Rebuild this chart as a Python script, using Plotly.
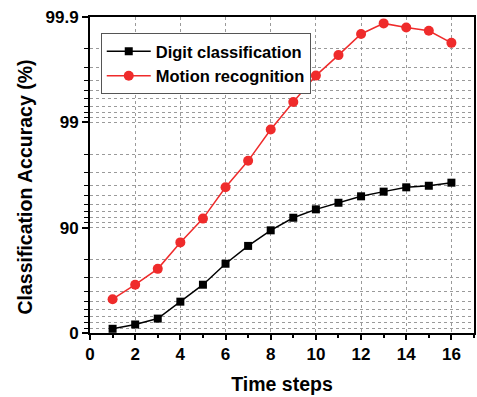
import numpy as np
import plotly.graph_objects as go

time_steps = list(range(1, 17))
digit_acc = [8.8, 17.0, 27.0, 49.6, 65.2, 78.0, 85.1, 89.4, 91.95, 93.3, 94.2, 94.96, 95.45, 95.86, 96.0, 96.26]
motion_acc = [52.2, 65.2, 75.4, 86.2, 91.8, 95.86, 97.68, 98.83, 99.36, 99.64, 99.77, 99.855, 99.885, 99.874, 99.865, 99.824]

y_tick_labels = ["0", "90", "99", "99.9"]
y_tick_acc = [0, 90, 99, 99.9]
y_minor_acc = [10, 20, 30, 40, 50, 60, 70, 80,
               91, 92, 93, 94, 95, 96, 97, 98,
               99.1, 99.2, 99.3, 99.4, 99.5, 99.6, 99.7, 99.8]
x_ticks = [0, 2, 4, 6, 8, 10, 12, 14, 16]

# Error rate on a reversed log axis == accuracy on a "nines" scale
def err(a):
    return [round(100 - v, 6) for v in a]

FONT = "Liberation Sans, Arial, sans-serif"
RED = "#ef2b2b"

fig = go.Figure()
fig.add_trace(go.Scatter(
    x=time_steps, y=err(digit_acc), mode="lines+markers",
    name="Digit classification",
    line=dict(color="black", width=1.5),
    marker=dict(symbol="square", size=8, color="black"),
))
fig.add_trace(go.Scatter(
    x=time_steps, y=err(motion_acc), mode="lines+markers",
    name="Motion recognition",
    line=dict(color=RED, width=1.5),
    marker=dict(symbol="circle", size=10, color=RED),
))

grid_color = "#9a9a9a"

fig.update_layout(
    width=477, height=397,
    margin=dict(l=90, r=1, t=17, b=64),
    paper_bgcolor="white", plot_bgcolor="white",
    font=dict(family=FONT, size=17, color="black", weight="bold"),
    showlegend=True,
    legend=dict(
        x=0.028, y=0.949, xanchor="left", yanchor="top",
        bgcolor="white", bordercolor="#555555", borderwidth=1,
        font=dict(family=FONT, size=16.5, color="black", weight="bold"),
        itemwidth=44, tracegroupgap=0,
    ),
    annotations=[dict(
        text="Classification Accuracy (%)", textangle=-90,
        xref="paper", yref="paper", x=-0.168, y=0.462,
        xanchor="center", yanchor="middle", showarrow=False,
        font=dict(family=FONT, size=19.5, color="black", weight="bold"),
    )],
)

fig.update_xaxes(
    range=[0, 17],
    tickmode="array", tickvals=x_ticks,
    ticks="outside", ticklen=5, tickwidth=1.5, tickcolor="black",
    showline=True, linewidth=2, linecolor="black", mirror=True,
    showgrid=True, gridcolor=grid_color, griddash="dot", gridwidth=1,
    zeroline=False,
    minor=dict(tickmode="linear", tick0=1, dtick=2, ticks="outside", ticklen=3,
               tickwidth=1.5, tickcolor="black", showgrid=False),
    tickfont=dict(family=FONT, size=17, color="black", weight="bold"),
    title=dict(text="Time steps", font=dict(family=FONT, size=19.5, color="black", weight="bold"), standoff=14),
)

fig.update_yaxes(
    type="log", range=[2, -1],
    tickmode="array", tickvals=err(y_tick_acc), ticktext=y_tick_labels,
    ticks="outside", ticklen=6, tickwidth=1.5, tickcolor="black",
    showline=True, linewidth=2, linecolor="black", mirror=True,
    showgrid=True, gridcolor=grid_color, griddash="dot", gridwidth=1,
    zeroline=False,
    minor=dict(tickmode="array", tickvals=err(y_minor_acc), ticks="outside", ticklen=4,
               tickwidth=1.2, tickcolor="black", showgrid=True,
               gridcolor=grid_color, griddash="dot", gridwidth=1),
    tickfont=dict(family=FONT, size=17, color="black", weight="bold"),
)

fig.write_html("out.html")
